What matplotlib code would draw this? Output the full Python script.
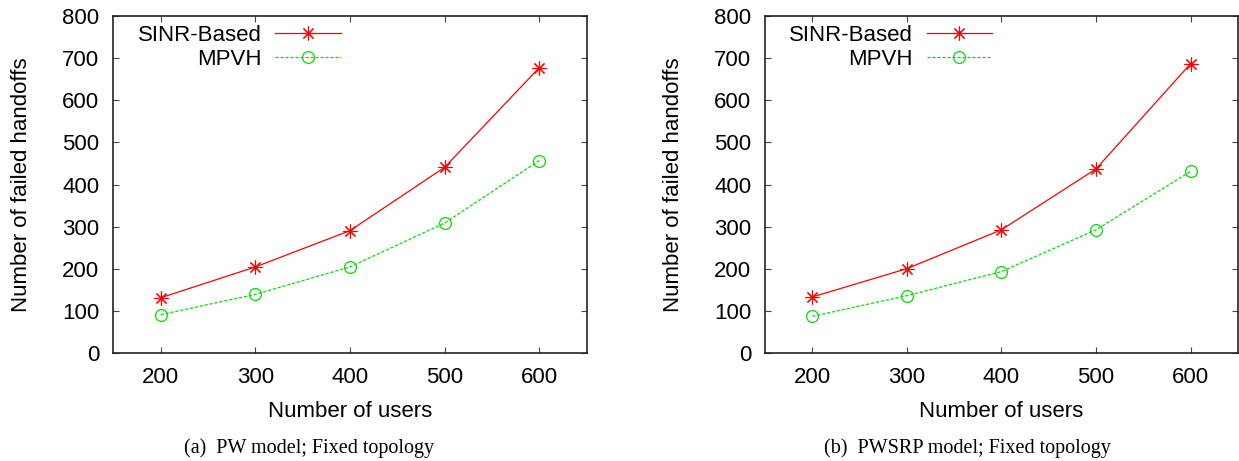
import numpy as np
import matplotlib
matplotlib.use("Agg")
import matplotlib.pyplot as plt

# =========================================
# DATA
# =========================================
users = [200, 300, 400, 500, 600]

pw_sinr = [132, 205, 291, 441, 677]
pw_mpvh = [92, 140, 205, 309, 457]

pwsrp_sinr = [134, 201, 293, 437, 686]
pwsrp_mpvh = [88, 137, 194, 293, 431]

captions = ["(a)  PW model; Fixed topology", "(b)  PWSRP model; Fixed topology"]
series_names = ["SINR-Based", "MPVH"]

# =========================================
# STYLE
# =========================================
plt.rcParams["font.family"] = ["Liberation Sans", "DejaVu Sans"]
FS = 16
RED = "#ff0000"
GREEN = "#00e000"

fig = plt.figure(figsize=(12.39, 4.61), dpi=100)

ax_pos = [
    [0.0915, 0.2332, 0.3820, 0.7328],
    [0.6176, 0.2332, 0.3814, 0.7328],
]
caption_x = [309.5 / 1239, 967 / 1239]

panels = [(pw_sinr, pw_mpvh), (pwsrp_sinr, pwsrp_mpvh)]

for i, (sinr, mpvh) in enumerate(panels):
    ax = fig.add_axes(ax_pos[i])

    ax.plot(users, sinr, color=RED, linewidth=0.9,
            marker=(8, 2, 0), markersize=10, markeredgewidth=0.8,
            label=series_names[0])
    ax.plot(users, mpvh, color=GREEN, linewidth=0.9, linestyle=(0, (2.5, 1.5)),
            marker="o", markersize=8.5, markerfacecolor="none",
            markeredgewidth=0.9, label=series_names[1])

    ax.set_xlim(150, 650)
    ax.set_ylim(0, 800)
    ax.set_xticks(users)
    ax.set_yticks(np.arange(0, 801, 100))

    ax.tick_params(direction="in", length=4, width=0.8, color="#444444",
                   top=True, right=True, labelsize=FS, pad=10)
    for spine in ax.spines.values():
        spine.set_linewidth(1.2)
        spine.set_color("#222222")

    ax.set_xlabel("Number of users", fontsize=FS)
    ax.set_ylabel("Number of failed handoffs", fontsize=FS)
    ax.xaxis.set_label_coords(0.5, -0.14)
    ax.yaxis.set_label_coords(-0.172, 0.5)

    ax.legend(loc="upper right", bbox_to_anchor=(0.48, 0.972),
              markerfirst=False, frameon=False, fontsize=FS,
              handlelength=2.93, handletextpad=0.63, labelspacing=0.12,
              borderpad=0, borderaxespad=0)

    fig.text(caption_x[i], 13 / 461, captions[i], ha="center", va="center",
             fontsize=14.5, family=["Liberation Serif", "DejaVu Serif"])

fig.savefig("out.png", dpi=100)
